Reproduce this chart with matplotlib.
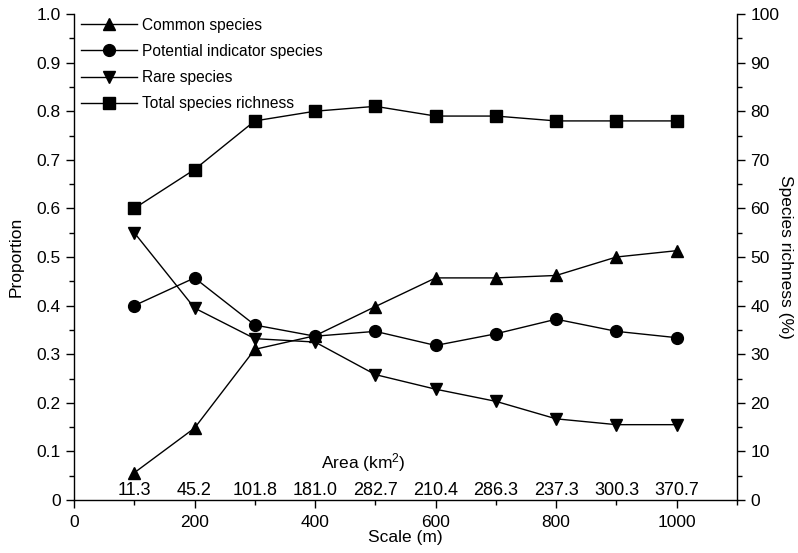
import matplotlib
matplotlib.use("Agg")
import matplotlib.pyplot as plt
from matplotlib.ticker import MultipleLocator

plt.rcParams['font.family'] = ['Liberation Sans', 'DejaVu Sans']
plt.rcParams['font.size'] = 12.5
plt.rcParams['mathtext.fontset'] = 'custom'
plt.rcParams['mathtext.rm'] = 'Liberation Sans'
plt.rcParams['mathtext.it'] = 'Liberation Sans'

scale = [100, 200, 300, 400, 500, 600, 700, 800, 900, 1000]
common = [0.056, 0.148, 0.31, 0.338, 0.398, 0.457, 0.457, 0.462, 0.50, 0.513]
indicator = [0.40, 0.457, 0.36, 0.337, 0.347, 0.318, 0.342, 0.372, 0.347, 0.334]
rare = [0.55, 0.395, 0.332, 0.325, 0.258, 0.228, 0.203, 0.167, 0.155, 0.155]
richness = [60, 68, 78, 80, 81, 79, 79, 78, 78, 78]
area_labels = ["11.3", "45.2", "101.8", "181.0", "282.7", "210.4", "286.3", "237.3", "300.3", "370.7"]

fig = plt.figure(figsize=(7.98, 5.53), dpi=100)
ax = fig.add_axes([74/798, 53/553, (737-74)/798, (500-14)/553])
ax2 = ax.twinx()

ms = 9
l1, = ax.plot(scale, common, color='black', lw=1, marker='^', ms=ms, label='Common species')
l2, = ax.plot(scale, indicator, color='black', lw=1, marker='o', ms=ms - 0.5, label='Potential indicator species')
l3, = ax.plot(scale, rare, color='black', lw=1, marker='v', ms=ms, label='Rare species')
l4, = ax2.plot(scale, richness, color='black', lw=1, marker='s', ms=ms - 1, label='Total species richness')

ax.set_xlim(0, 1100)
ax.set_ylim(0, 1.0)
ax2.set_ylim(0, 100)

ax.xaxis.set_major_locator(MultipleLocator(200))
ax.xaxis.set_minor_locator(MultipleLocator(100))
ax.yaxis.set_major_locator(MultipleLocator(0.1))
ax.yaxis.set_minor_locator(MultipleLocator(0.05))
ax2.yaxis.set_major_locator(MultipleLocator(10))
ax2.yaxis.set_minor_locator(MultipleLocator(5))

ax.set_yticks([i / 10 for i in range(11)])
ax.set_yticklabels(['0' if i == 0 else f'{i/10:.1f}' for i in range(11)])

for a in (ax, ax2):
    a.spines['top'].set_visible(False)
    a.tick_params(which='major', direction='out', length=6, width=1, colors='black', labelsize=12.5)
    a.tick_params(which='minor', direction='out', length=3.5, width=1)
ax.tick_params(axis='x', which='major', pad=5)
ax.spines['right'].set_visible(False)
for s in ['left', 'bottom']:
    ax.spines[s].set_linewidth(1)
ax2.spines['right'].set_linewidth(1)
ax2.spines['left'].set_visible(False)
ax2.spines['bottom'].set_visible(False)

ax.set_xlabel('Scale (m)', fontsize=12.5, labelpad=0)
ax.set_ylabel('Proportion', fontsize=12.5, labelpad=9)
ax2.set_ylabel('Species richness (%)', fontsize=12.5, rotation=270, labelpad=10)

for x, lab in zip(scale, area_labels):
    ax.text(x, 0.019, lab, ha='center', va='center', fontsize=13)
ax.text(480, 0.078, 'Area (km$^2$)', ha='center', va='center', fontsize=12.5)

leg = ax.legend(handles=[l1, l2, l3, l4], loc='upper left', bbox_to_anchor=(-0.006, 1.015),
                frameon=False, handlelength=3.6, labelspacing=0.72, handletextpad=0.3,
                borderaxespad=0.3, fontsize=11.2)

fig.savefig('out.png', dpi=100)
